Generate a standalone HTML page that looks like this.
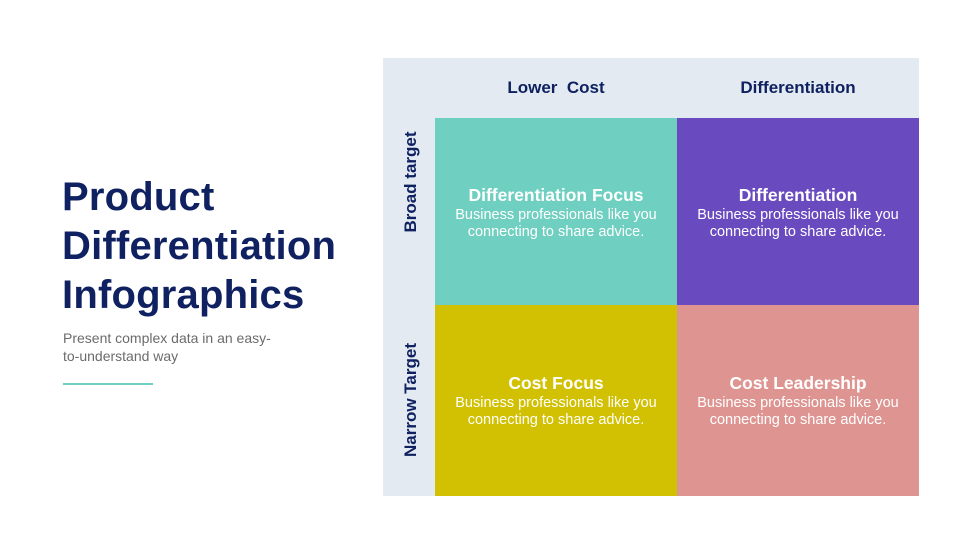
<!DOCTYPE html>
<html><head><style>
body{margin:0;width:980px;height:551px;background:#fff;position:relative;font-family:"Liberation Sans",sans-serif;overflow:hidden}
.a{position:absolute}
.title{left:62px;top:173px;font-size:40px;font-weight:bold;color:#0f2160;line-height:49px;letter-spacing:0.2px}
.sub{left:63px;top:329px;font-size:14px;color:#6b6b6b;line-height:18px;width:250px}
.line{left:63px;top:383px;width:90px;height:2px;background:#6fcfc0}
.panel{left:383px;top:58px;width:536px;height:438px;background:#e3eaf1}
.hd{font-size:17px;font-weight:bold;color:#0f2160;top:78px;text-align:center;width:242px}
.cell{color:#fff;text-align:center}
.cell .t{font-size:17.5px;font-weight:bold;margin-bottom:1px}
.cell .b{font-size:14.5px;line-height:17px}
.vl{font-size:17px;font-weight:bold;color:#0f2160;transform:rotate(-90deg);transform-origin:center;white-space:nowrap;text-align:center;width:190px;left:316px}
</style></head><body>
<div class="a title">Product<br>Differentiation<br>Infographics</div>
<div class="a sub">Present complex data in an easy-<br>to-understand way</div>
<div class="a line"></div>
<div class="a panel"></div>
<div class="a hd" style="left:435px">Lower&nbsp; Cost</div>
<div class="a hd" style="left:677px">Differentiation</div>
<div class="a vl" style="top:172px">Broad target</div>
<div class="a vl" style="top:390px">Narrow Target</div>
<div class="a cell" style="left:435px;top:118px;width:242px;height:187px;background:#6fcfc0"><div style="padding-top:67px"><div class="t">Differentiation Focus</div><div class="b">Business professionals like you<br>connecting to share advice.</div></div></div>
<div class="a cell" style="left:677px;top:118px;width:242px;height:187px;background:#6a4bbf"><div style="padding-top:67px"><div class="t">Differentiation</div><div class="b">Business professionals like you<br>connecting to share advice.</div></div></div>
<div class="a cell" style="left:435px;top:305px;width:242px;height:191px;background:#d2c002"><div style="padding-top:68px"><div class="t">Cost Focus</div><div class="b">Business professionals like you<br>connecting to share advice.</div></div></div>
<div class="a cell" style="left:677px;top:305px;width:242px;height:191px;background:#de9591"><div style="padding-top:68px"><div class="t">Cost Leadership</div><div class="b">Business professionals like you<br>connecting to share advice.</div></div></div>
</body></html>
